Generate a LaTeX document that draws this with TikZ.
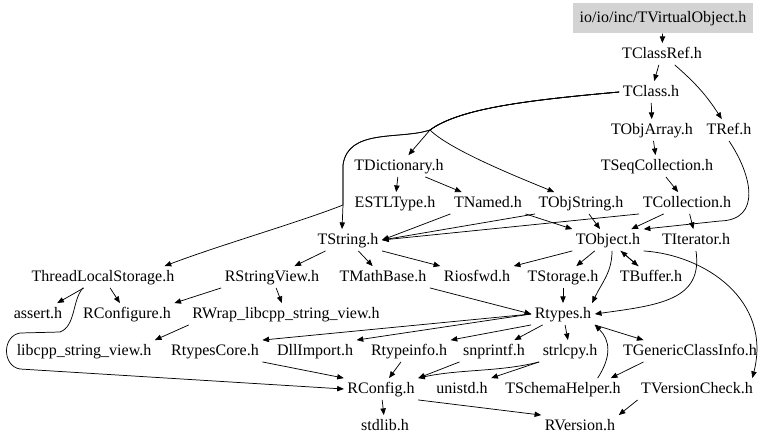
\documentclass[tikz,border=0pt]{standalone}
\usepackage{fontspec}
\setmainfont{Liberation Serif}
\usetikzlibrary{arrows.meta}
\definecolor{rootgray}{HTML}{D3D3D3}
\tikzset{
  file/.style={inner sep=2.5pt, text height=8.5pt, text depth=2.5pt, font=\fontsize{12}{14}\selectfont},
  rootfile/.style={file, fill=rootgray, inner xsep=5pt, minimum height=23pt},
  dep/.style={-{Triangle[length=5pt,width=4pt]}, line width=0.55pt}
}
\begin{document}
\begin{tikzpicture}[x=0.75pt,y=-0.75pt]
  \useasboundingbox (0,0) rectangle (768,444);

  % Draw the header files, row by row
  \node[rootfile] (vobj) at (663,18) {io/io/inc/TVirtualObject.h};
  \node[file] (classref) at (662,54) {TClassRef.h};
  \node[file] (tclass) at (651,92) {TClass.h};
  \node[file] (objarray) at (652,130) {TObjArray.h};
  \node[file] (tref) at (729,130) {TRef.h};
  \node[file] (dict) at (399,166) {TDictionary.h};
  \node[file] (seqcoll) at (657,166) {TSeqCollection.h};
  \node[file] (estl) at (395,203) {ESTLType.h};
  \node[file] (named) at (488,203) {TNamed.h};
  \node[file] (objstring) at (581,203) {TObjString.h};
  \node[file] (collection) at (687,203) {TCollection.h};
  \node[file] (tstring) at (348,240) {TString.h};
  \node[file] (tobject) at (608,240) {TObject.h};
  \node[file] (iterator) at (696,240) {TIterator.h};
  \node[file] (tls) at (103,277) {ThreadLocalStorage.h};
  \node[file] (strview) at (272,277) {RStringView.h};
  \node[file] (mathbase) at (383,277) {TMathBase.h};
  \node[file] (iosfwd) at (477,277) {Riosfwd.h};
  \node[file] (storage) at (563,277) {TStorage.h};
  \node[file] (buffer) at (651,277) {TBuffer.h};
  \node[file] (assert) at (38,314) {assert.h};
  \node[file] (rconfigure) at (127,314) {RConfigure.h};
  \node[file] (rwrap) at (286,314) {RWrap\_libcpp\_string\_view.h};
  \node[file] (rtypes) at (563,314) {Rtypes.h};
  \node[file] (libcpp) at (84,351) {libcpp\_string\_view.h};
  \node[file] (typescore) at (215,351) {RtypesCore.h};
  \node[file] (dllimport) at (315,351) {DllImport.h};
  \node[file] (typeinfo) at (409,351) {Rtypeinfo.h};
  \node[file] (snprintf) at (494,351) {snprintf.h};
  \node[file] (strlcpy) at (570,351) {strlcpy.h};
  \node[file] (genclass) at (690,351) {TGenericClassInfo.h};
  \node[file] (rconfig) at (381,389) {RConfig.h};
  \node[file] (unistd) at (462,389) {unistd.h};
  \node[file] (schema) at (563,389) {TSchemaHelper.h};
  \node[file] (vercheck) at (697,389) {TVersionCheck.h};
  \node[file] (stdlib) at (385,426) {stdlib.h};
  \node[file] (rversion) at (580,426) {RVersion.h};

  % Branch points of the long TClass.h edges
  \coordinate (tclassfork) at (430,130);
  \coordinate (tstringfork) at (343,205);

  % Top of the graph
  \draw[dep] (vobj) -- (classref);
  \draw[dep] (classref) -- (tclass);
  \draw[dep] (classref) to[bend left=8] (tref);
  \draw[dep] (tclass) -- (objarray);
  \draw[dep] (tclass.west) .. controls (530,100) and (460,108) .. (tclassfork) -- (dict);
  \draw[dep] (tclass.west) .. controls (530,100) and (460,108) .. (tclassfork)
    .. controls (450,150) and (520,178) .. (objstring);
  \draw[dep] (tclass.west) .. controls (530,100) and (460,108) .. (tclassfork)
    .. controls (400,140) and (348,128) .. (343,165) -- (tstringfork) -- ([xshift=-4.5pt]tstring.north);
  \draw[dep] (tclass.west) .. controls (530,100) and (460,108) .. (tclassfork)
    .. controls (400,140) and (348,128) .. (343,165) -- (tstringfork)
    .. controls (300,222) and (220,245) .. ([xshift=-10pt]tls.north east);
  \draw[dep] (dict) -- (estl);
  \draw[dep] (dict) -- (named);
  \draw[dep] (objarray) -- (seqcoll);
  \draw[dep] (seqcoll) -- (collection);

  % Into TString.h and TObject.h
  \draw[dep] (tref.south) .. controls (752,175) and (762,220) .. (720,221) -- (tobject.north east);
  \draw[dep] (collection) -- (tobject);
  \draw[dep] (collection) -- (iterator);
  \draw[dep] (collection.south west) -- (tstring.east);
  \draw[dep] (named.south west) -- (tstring.east);
  \draw[dep] (objstring.south west) -- (tstring.east);
  \draw[dep] (named.south east) -- (tobject.north west);
  \draw[dep] (objstring) -- (tobject);

  % Out of TString.h and TObject.h
  \draw[dep] (tstring) -- (strview);
  \draw[dep] (tstring) -- (mathbase);
  \draw[dep] (tstring.south east) -- (iosfwd.north west);
  \draw[dep] (tobject.south west) -- (iosfwd.north east);
  \draw[dep] (tobject) -- (storage);
  \draw[dep] ([xshift=3pt]tobject.south) to[out=-90,in=65] ([xshift=-2pt]rtypes.north east);
  \draw[dep] (tobject) -- (buffer);
  \draw[dep] (buffer) -- (tobject);
  \draw[dep] (tobject.south east) .. controls (705,255) and (772,300) .. ([xshift=-3pt]vercheck.north east);
  \draw[dep] (iterator.south) .. controls (703,300) and (660,305) .. (rtypes.east);

  % Middle rows
  \draw[dep] (tls) -- (assert);
  \draw[dep] (tls) -- (rconfigure);
  \draw[dep] ([xshift=-15pt]tls.south) .. controls (72,300) and (76,326) .. (60,332) -- (20,333)
    .. controls (2,336) and (2,366) .. (20,369) -- (rconfig.west);
  \draw[dep] (strview.south west) -- (rconfigure.north east);
  \draw[dep] (strview) -- (rwrap);
  \draw[dep] (mathbase.south east) -- (rtypes.west);
  \draw[dep] (storage) -- (rtypes);
  \draw[dep] (rwrap.south west) -- (libcpp.north east);

  % Out of Rtypes.h
  \draw[dep] (rtypes.west) -- (typescore.north east);
  \draw[dep] (rtypes.west) -- (dllimport.north east);
  \draw[dep] (rtypes.south west) -- (typeinfo.north east);
  \draw[dep] (rtypes) -- (snprintf);
  \draw[dep] (rtypes) -- (strlcpy);
  \draw[dep] (rtypes.south east) -- ([xshift=18pt]genclass.north west);

  % Bottom rows
  \draw[dep] (typeinfo) -- (rconfig);
  \draw[dep] (snprintf.south west) -- (rconfig.north east);
  \draw[dep] (strlcpy.south west) .. controls (500,372) and (460,369) .. (rconfig.north east);
  \draw[dep] (strlcpy.south west) -- (unistd.north east);
  \draw[dep] (typescore.south east) -- (rconfig.north west);
  \draw[dep] ([xshift=18pt]genclass.south west) -- ([xshift=-10pt]schema.north east);
  \draw[dep] ([xshift=26pt]schema.north) .. controls (612,356) and (610,340) .. (rtypes.south east);
  \draw[dep] (vercheck.south west) -- (rversion.north east);
  \draw[dep] (rconfig) -- (stdlib);
  \draw[dep] (rconfig.south east) -- (rversion.north west);
\end{tikzpicture}
\end{document}
